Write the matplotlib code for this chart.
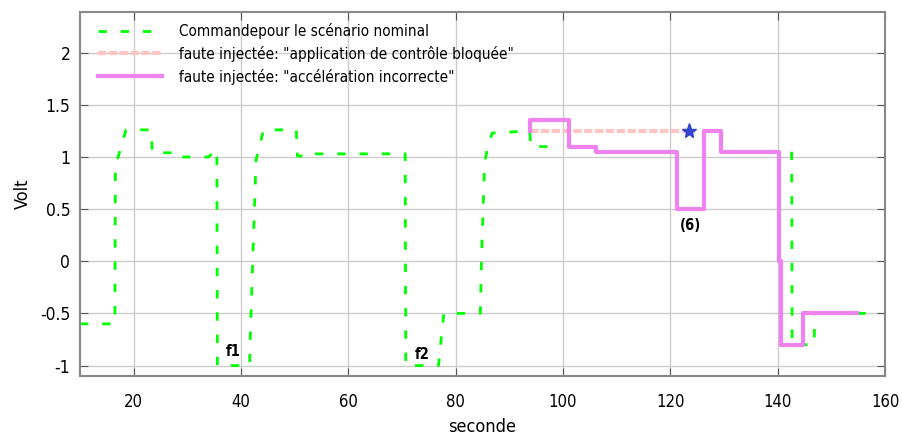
import numpy as np
import matplotlib
matplotlib.use('Agg')
import matplotlib.pyplot as plt

# nominal command (green dashed), nan = hidden part
t_nom = [10, 16.5, 16.6, 18.1, 18.6, 23.2, 23.5, 28.0, 28.2, 33.9, 35.5, 35.6, 41.6,
         41.8, 42.8, 44.2, 50.3, 50.5, 53.0, 53.2, 70.6, 70.7, 76.8, 77.8, 84.6,
         84.8, 85.4, 85.9, 86.8, 93.8, 94.0, 99.6, 100.0,
         142.6, 142.7, 146.8, 146.9, 156.5]
v_nom = [-0.6, -0.6, 0.91, 1.18, 1.26, 1.26, 1.04, 1.04, 1.0, 1.0, 1.07, -1.0, -1.0,
         -0.6, 0.97, 1.26, 1.26, 1.01, 1.01, 1.03, 1.03, -1.0, -1.0, -0.5, -0.5,
         0.01, 0.94, 1.08, 1.23, 1.25, 1.10, 1.10, np.nan,
         1.05, -0.8, -0.8, -0.5, -0.5]

# fault: blocked control application
t_block = [93.8, 123.5]
v_block = [1.25, 1.25]

# fault: wrong acceleration
t_acc = [93.8, 93.8, 101.1, 101.1, 106.1, 106.1, 121.3, 121.3, 126.3, 126.3, 129.4,
         129.4, 140.3, 140.3, 140.6, 140.6, 144.8, 144.8, 154.8]
v_acc = [1.25, 1.35, 1.35, 1.10, 1.10, 1.05, 1.05, 0.5, 0.5, 1.25, 1.25,
         1.05, 1.05, 0.0, 0.0, -0.8, -0.8, -0.5, -0.5]

plt.rcParams['font.family'] = ['DejaVu Sans']
plt.rcParams['font.stretch'] = 'condensed'

fig = plt.figure(figsize=(9.03, 4.37), dpi=100)
ax = fig.add_axes([80/903, 1 - 376/437, 805/903, 364/437])

ax.plot(t_nom, v_nom, color='#00ff00', lw=2, dashes=(3, 5),
        label='Commandepour le scénario nominal')
ax.plot(t_block, v_block, color='#ffc4c4', lw=3, dashes=(2, 0.6),
        label='faute injectée: "application de contrôle bloquée"')
ax.plot(t_acc, v_acc, color='#ee82ee', lw=3,
        label='faute injectée: "accélération incorrecte"')
ax.plot([t_block[-1]], [v_block[-1]], marker='*', ms=11, color='#3344cc', ls='none')

ax.text(38.5, -0.91, 'f1', fontsize=10.5, fontweight='bold', ha='center')
ax.text(73.8, -0.94, 'f2', fontsize=10.5, fontweight='bold', ha='center')
ax.text(123.8, 0.3, '(6)', fontsize=10.5, fontweight='bold', ha='center')

ax.set_xlim(10, 160)
ax.set_ylim(-1.1, 2.39)
ax.set_xticks([20, 40, 60, 80, 100, 120, 140, 160])
ax.set_yticks([-1, -0.5, 0, 0.5, 1, 1.5, 2])
ax.set_yticklabels(['-1', '-0.5', '0', '0.5', '1', '1.5', '2'])
ax.grid(True, color='#cccccc', lw=1)
ax.set_axisbelow(True)
ax.tick_params(direction='in', top=True, right=True, length=6, color='#555555',
               labelsize=12.5)
ax.tick_params(axis='x', pad=12, labelsize=12)
ax.tick_params(axis='y', pad=7)
for s in ax.spines.values():
    s.set_color('#888888')
    s.set_linewidth(1.5)

ax.set_xlabel('seconde', fontsize=13, labelpad=5)
ax.set_ylabel('Volt', fontsize=13, labelpad=6)

leg = ax.legend(loc='upper left', frameon=False, fontsize=11, handlelength=4.2,
                borderaxespad=0, borderpad=0, labelspacing=0.45, handletextpad=1.15,
                bbox_to_anchor=(0.022, 0.97))

fig.savefig('out.png', dpi=100)
